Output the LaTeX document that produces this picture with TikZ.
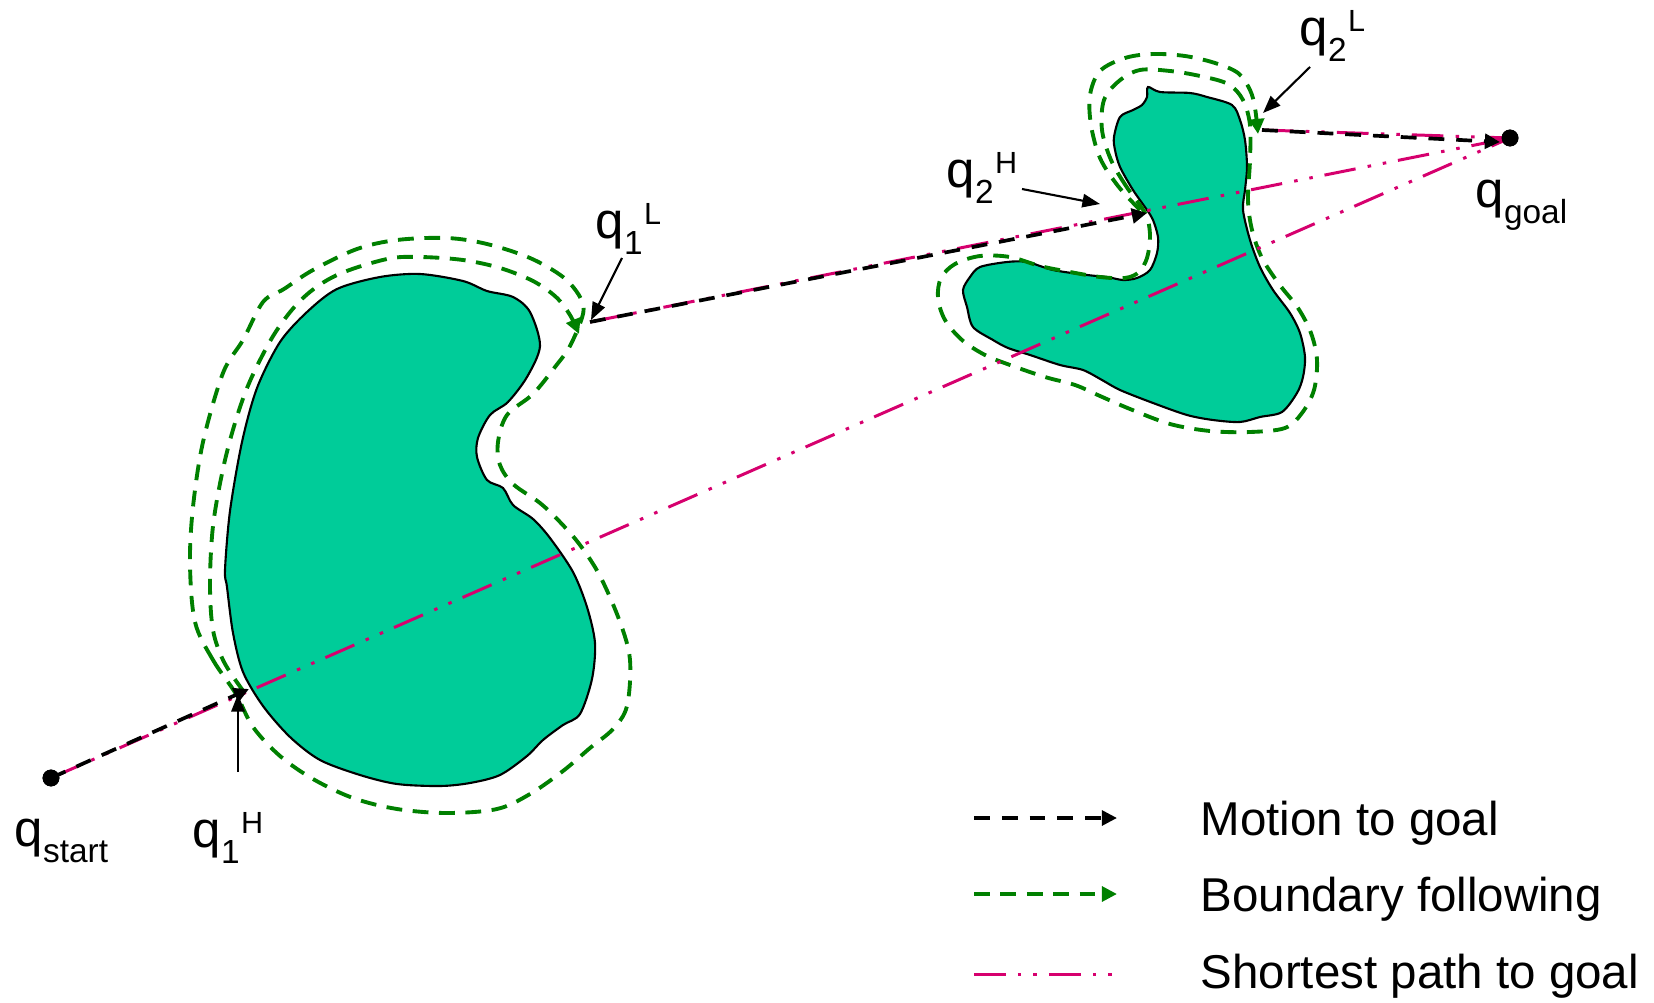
\documentclass[tikz,border=0pt]{standalone}
\usepackage{fontspec}
\setmainfont{Liberation Sans}
\usepackage{xcolor}
\usepackage{tikz}
\usetikzlibrary{arrows.meta}

\definecolor{obstfill}{RGB}{0,204,153}
\definecolor{bfgreen}{RGB}{0,128,0}
\definecolor{spmagenta}{RGB}{214,0,110}

\newcommand{\ql}[2]{q\raisebox{-4.8pt}{\fontsize{9.5}{10}\selectfont #1}\hspace{0.4pt}\raisebox{3.8pt}{\fontsize{8.7}{9}\selectfont #2}}

\begin{document}
\begin{tikzpicture}[x=0.01cm, y=-0.01cm,
    obst/.style={draw=black, line width=0.6pt, fill=obstfill},
    motion/.style={black, line width=1.05pt, dash pattern=on 4.5pt off 3.4pt, -{Triangle[length=4.3pt,width=4.2pt]}},
    follow/.style={bfgreen, line width=1.1pt, dash pattern=on 4.5pt off 3pt},
    shortest/.style={spmagenta, line width=0.85pt, dash pattern=on 9pt off 3.5pt on 1pt off 3.4pt on 1pt off 3.4pt},
    pointer/.style={black, line width=0.6pt, -{Triangle[length=5pt,width=3.8pt]}},
    dot/.style={circle, fill=black, inner sep=0pt, minimum size=4.8pt},
    lbl/.style={anchor=base west, inner sep=0pt, font=\fontsize{14.5}{16}\selectfont},
    legtext/.style={anchor=base west, inner sep=0pt, font=\fontsize{13.5}{15}\selectfont}]
        \useasboundingbox (0,0) rectangle (1654,1003);

        % Obstacles
        \draw[obst] plot[smooth cycle, tension=0.5] coordinates {
            (225,570) (230,511) (242,442) (257,388) (280,342) (307,312) (337,289)
            (380,277) (420,274) (463,281) (487,291) (513,297) (530,312) (540,346)
            (527,377) (508,402) (490,415) (478,438) (477,457) (487,480) (503,488)
            (513,505) (533,519) (550,538) (573,572) (587,607) (595,643) (592,679)
            (580,714) (563,725) (543,740) (527,756) (500,775) (470,783) (440,786)
            (397,784) (360,775) (320,760) (290,737) (263,706) (243,672) (233,633) (227,587)};
        \draw[obst] plot[smooth cycle, tension=0.5] coordinates {
            (1148,87) (1160,92) (1190,93) (1207,97) (1232,105) (1240,120) (1245,140)
            (1247,167) (1245,190) (1243,210) (1250,240) (1260,267) (1273,290) (1290,313)
            (1300,333) (1305,357) (1303,377) (1297,393) (1282,412) (1260,417) (1240,422)
            (1213,420) (1187,415) (1153,403) (1120,390) (1102,380) (1083,370) (1060,365)
            (1030,355) (1008,348) (993,340) (973,327) (967,307) (963,290) (970,277)
            (980,267) (1007,262) (1027,262) (1053,270) (1087,275) (1107,277) (1123,280)
            (1137,278) (1150,270) (1157,253) (1158,237) (1153,220) (1147,210) (1133,190)
            (1120,167) (1115,150) (1114,137) (1120,117) (1133,110) (1142,105) (1147,97)};

        % Points of the path
        \node[dot] (qs) at (51,778) {};
        \node[dot] (qg) at (1510,138) {};
        \coordinate (h1) at (249,689);
        \coordinate (l1) at (590,322);
        \coordinate (h2) at (1147,213);
        \coordinate (l2) at (1262,130);

        % Boundary following round obstacle 1
        \draw[follow] plot[smooth cycle, tension=0.55] coordinates {
            (236,694) (213,660) (195,622) (190,564) (193,507) (203,442) (223,373)
            (243,340) (263,302) (284,289) (313,270) (357,249) (397,240) (447,238)
            (487,244) (530,258) (563,277) (580,297) (583,314) (570,346) (555,367)
            (533,394) (507,415) (498,442) (500,465) (513,484) (540,503) (560,522)
            (580,545) (600,576) (620,622) (630,660) (627,706) (613,729) (590,748)
            (563,771) (530,794) (497,809) (447,813) (397,809) (353,798) (313,779)
            (280,756) (253,727)};
        \draw[follow, -{Triangle[length=4.3pt,width=4.2pt]}] plot[smooth, tension=0.55] coordinates {
            (244,692) (224,662) (213,630) (210,584) (213,526) (223,469) (235,423)
            (250,381) (275,333) (303,298) (337,275) (387,259) (420,257) (463,260)
            (500,268) (533,281) (556,297) (570,315) (579,334)};

        % Boundary following round obstacle 2
        \draw[follow] plot[smooth cycle, tension=0.55] coordinates {
            (1142,208) (1126,186) (1111,160) (1102,130) (1104,100) (1119,81) (1140,70)
            (1170,71) (1200,76) (1228,84) (1243,100) (1250,125) (1250,160) (1248,200)
            (1252,230) (1262,258) (1279,284) (1298,308) (1311,333) (1317,360)
            (1314,390) (1302,413) (1285,428) (1250,432) (1210,431) (1170,424)
            (1130,409) (1100,396) (1075,385) (1045,377) (1010,365) (985,355) (962,340)
            (945,320) (938,298) (941,278) (955,264) (980,256) (1010,257) (1040,266)
            (1070,272) (1100,277) (1125,278) (1139,272) (1147,258) (1150,238) (1148,220)};
        \draw[follow, -{Triangle[length=4.3pt,width=4.2pt]}] plot[smooth, tension=0.55] coordinates {
            (1140,210) (1118,186) (1100,158) (1091,125) (1090,95) (1100,71) (1125,58)
            (1153,54) (1185,56) (1215,63) (1238,73) (1250,90) (1255,108) (1258,134)};

        % Shortest path to goal
        \draw[shortest] (qs.center) -- (qg.center);
        \draw[shortest] (l1) -- (qg.center);
        \draw[shortest] (l2) -- (qg.center);

        % Motion to goal
        \draw[motion] (qs.center) -- (h1);
        \draw[motion] (l1) -- (h2);
        \draw[motion] (l2) -- (1500,142);
        \node[dot] at (qg) {};
        \node[dot] at (qs) {};

        % Labels and pointers
        \node[lbl] (tqs) at (14,846) {\ql{start}{}};
        \node[lbl] (tqg) at (1475,207) {\ql{goal}{}};
        \node[lbl] (th1) at (192,847) {\ql{1}{H}};
        \node[lbl] (tl1) at (595,238) {\ql{1}{L}};
        \node[lbl] (th2) at (946,187) {\ql{2}{H}};
        \node[lbl] (tl2) at (1299,45) {\ql{2}{L}};
        \coordinate (ph1) at (238,772);
        \coordinate (pl1) at (622,258);
        \coordinate (ph2) at (1022,189);
        \coordinate (pl2) at (1310,67);
        \draw[pointer] (ph1) -- (238,694);
        \draw[pointer] (pl1) -- (591,320);
        \draw[pointer] (ph2) -- (1100,204);
        \draw[pointer] (pl2) -- (1263,113);

        % Legend
        \coordinate (m1) at (974,818);
        \coordinate (m2) at (1117,818);
        \coordinate (b1) at (974,894);
        \coordinate (b2) at (1117,894);
        \coordinate (s1) at (974,974);
        \coordinate (s2) at (1115,974);
        \draw[motion] (m1) -- (m2);
        \draw[follow, -{Triangle[length=4.3pt,width=4.2pt]}] (b1) -- (b2);
        \draw[shortest] (s1) -- (s2);
        \node[legtext] (tm) at (1200,835) {Motion to goal};
        \node[legtext] (tb) at (1200,911) {Boundary following};
        \node[legtext] (ts) at (1200,988) {Shortest path to goal};
\end{tikzpicture}
\end{document}
